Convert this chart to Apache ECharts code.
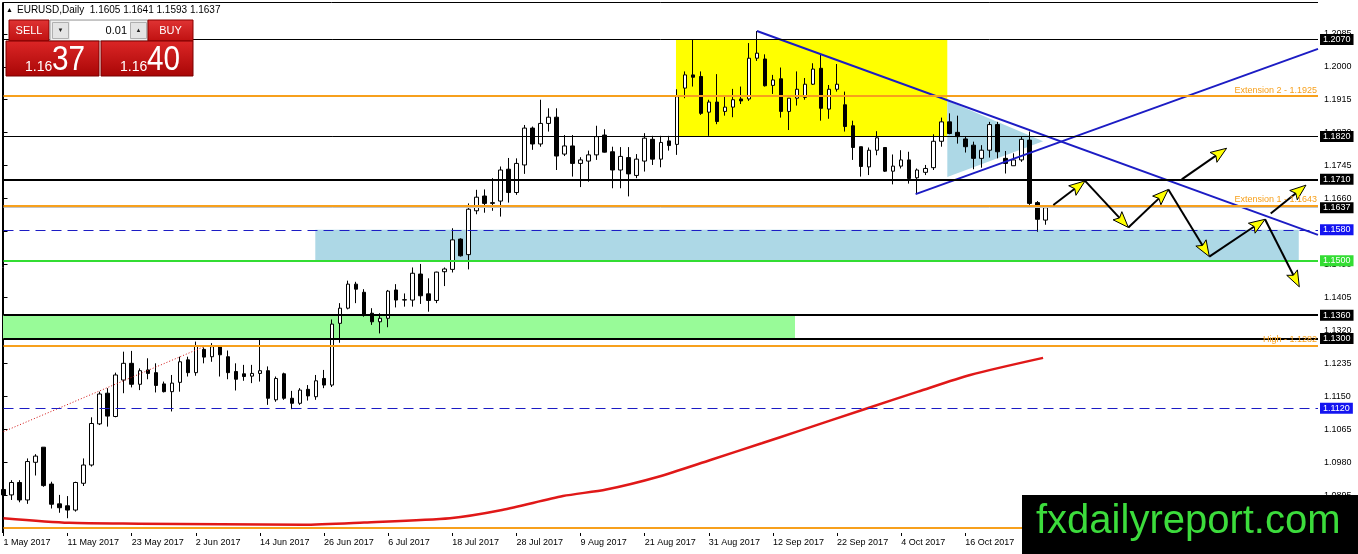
<!DOCTYPE html>
<html><head><meta charset="utf-8">
<script src="https://cdn.jsdelivr.net/npm/echarts@6/dist/echarts.min.js"></script>
<style>html,body{margin:0;padding:0;background:#fff}#c{width:1358px;height:554px}</style>
</head><body><div id="c"></div>
<script>
// ---------------- data ----------------
const symbolTitle = 'EURUSD,Daily';
const tickLabels = ['1 May 2017','11 May 2017','23 May 2017','2 Jun 2017','14 Jun 2017','26 Jun 2017','6 Jul 2017','18 Jul 2017','28 Jul 2017','9 Aug 2017','21 Aug 2017','31 Aug 2017','12 Sep 2017','22 Sep 2017','4 Oct 2017','16 Oct 2017'];
const slotCount = 165;           // trading-day slots on the axis (incl. empty future space)
const priceTicks = [1.0895,1.0980,1.1065,1.1150,1.1235,1.1320,1.1405,1.1490,1.1575,1.1660,1.1745,1.1830,1.1915,1.2000,1.2085];

const opens = [1.0911,1.0897,1.0929,1.0884,1.0981,1.1020,1.0925,1.0874,1.0869,1.0858,
1.0927,1.0974,1.1080,1.1159,1.1099,1.1193,1.1236,1.1182,1.1219,1.1212,
1.1183,1.1163,1.1187,1.1245,1.1212,1.1272,1.1253,1.1279,1.1253,1.1215,
1.1209,1.1203,1.1210,1.1217,1.1142,1.1209,1.1146,1.1133,1.1169,1.1150,
1.1197,1.1180,1.1339,1.1378,1.1440,1.1419,1.1365,1.1343,1.1352,1.1425,
1.1399,1.1399,1.1466,1.1415,1.1398,1.1472,1.1478,1.1556,1.1516,1.1629,
1.1667,1.1648,1.1654,1.1736,1.1676,1.1747,1.1842,1.1801,1.1854,1.1870,
1.1775,1.1796,1.1751,1.1757,1.1773,1.1824,1.1781,1.1734,1.1766,1.1720,
1.1757,1.1813,1.1762,1.1809,1.1800,1.1945,1.1979,1.1975,1.1883,1.1909,
1.1885,1.1896,1.1917,1.1917,1.2022,1.2020,1.1952,1.1969,1.1885,1.1919,
1.1921,1.1955,1.1996,1.1891,1.1942,1.1902,1.1848,1.1794,1.1742,1.1785,
1.1792,1.1731,1.1744,1.1760,1.1714,1.1728,1.1740,1.1808,1.1858,1.1831,
1.1814,1.1798,1.1764,1.1785,1.1851,1.1764,1.1745,1.1760,1.1811,1.1650,
1.1605];
const highs = [1.0923,1.0935,1.0935,1.0991,1.1002,1.1020,1.0931,1.0897,1.0894,1.0931,
1.0991,1.1097,1.1163,1.1172,1.1212,1.1266,1.1268,1.1223,1.1249,1.1236,
1.1189,1.1206,1.1253,1.1253,1.1292,1.1277,1.1288,1.1283,1.1269,1.1236,
1.1232,1.1232,1.1298,1.1228,1.1202,1.1212,1.1165,1.1172,1.1180,1.1206,
1.1219,1.1349,1.1391,1.1449,1.1446,1.1427,1.1378,1.1365,1.1425,1.1440,
1.1416,1.1483,1.1492,1.1455,1.1472,1.1483,1.1584,1.1558,1.1648,1.1683,
1.1684,1.1713,1.1743,1.1765,1.1764,1.1850,1.1846,1.1915,1.1893,1.1893,
1.1824,1.1824,1.1767,1.1784,1.1848,1.1839,1.1794,1.1793,1.1793,1.1775,
1.1829,1.1822,1.1822,1.1822,1.1942,1.1988,1.2070,1.1988,1.1915,1.1981,
1.1925,1.1943,1.1949,1.2061,1.2092,1.2032,1.1979,1.1998,1.1919,1.1988,
1.1971,1.2009,1.2032,1.1953,1.2007,1.1936,1.1861,1.1794,1.1792,1.1834,
1.1792,1.1774,1.1785,1.1781,1.1738,1.1747,1.1826,1.1869,1.1880,1.1874,
1.1820,1.1807,1.1798,1.1858,1.1858,1.1783,1.1777,1.1820,1.1833,1.1654,
1.1641];
const lows = [1.0882,1.0884,1.0878,1.0874,1.0947,1.0918,1.0862,1.0851,1.0837,1.0854,
1.0920,1.0970,1.1077,1.1073,1.1097,1.1159,1.1174,1.1167,1.1195,1.1161,
1.1161,1.1112,1.1163,1.1202,1.1204,1.1236,1.1240,1.1202,1.1195,1.1166,
1.1191,1.1185,1.1189,1.1129,1.1137,1.1142,1.1118,1.1129,1.1140,1.1142,
1.1172,1.1175,1.1289,1.1375,1.1391,1.1356,1.1335,1.1313,1.1329,1.1380,
1.1382,1.1382,1.1389,1.1369,1.1391,1.1435,1.1470,1.1511,1.1478,1.1620,
1.1624,1.1629,1.1614,1.1650,1.1670,1.1724,1.1786,1.1794,1.1833,1.1734,
1.1770,1.1717,1.1690,1.1704,1.1760,1.1779,1.1687,1.1687,1.1666,1.1713,
1.1730,1.1747,1.1741,1.1784,1.1773,1.1919,1.1949,1.1876,1.1822,1.1852,
1.1874,1.1870,1.1904,1.1912,1.2015,1.1949,1.1930,1.1869,1.1837,1.1900,
1.1915,1.1953,1.1861,1.1866,1.1936,1.1833,1.1760,1.1717,1.1721,1.1772,
1.1729,1.1697,1.1738,1.1699,1.1672,1.1721,1.1734,1.1794,1.1826,1.1802,
1.1779,1.1736,1.1740,1.1766,1.1764,1.1725,1.1745,1.1755,1.1644,1.1575,
1.1593];
const closes = [1.0897,1.0929,1.0884,1.0983,1.0997,1.0921,1.0873,1.0864,1.0858,1.0929,
1.0974,1.1081,1.1157,1.1100,1.1206,1.1236,1.1182,1.1217,1.1210,1.1179,
1.1163,1.1185,1.1240,1.1212,1.1281,1.1252,1.1279,1.1258,1.1212,1.1195,
1.1202,1.1210,1.1217,1.1146,1.1197,1.1146,1.1133,1.1167,1.1152,1.1191,
1.1180,1.1337,1.1378,1.1440,1.1427,1.1361,1.1343,1.1352,1.1422,1.1399,
1.1400,1.1468,1.1410,1.1398,1.1471,1.1479,1.1554,1.1513,1.1633,1.1664,
1.1648,1.1650,1.1734,1.1676,1.1751,1.1842,1.1801,1.1854,1.1870,1.1770,
1.1796,1.1751,1.1760,1.1773,1.1820,1.1780,1.1734,1.1769,1.1724,1.1762,
1.1816,1.1762,1.1805,1.1797,1.1923,1.1979,1.1973,1.1880,1.1909,1.1859,
1.1896,1.1915,1.1912,1.2022,1.2035,1.1951,1.1966,1.1885,1.1919,1.1942,
1.1955,1.1994,1.1893,1.1942,1.1955,1.1846,1.1792,1.1743,1.1785,1.1817,
1.1731,1.1744,1.1760,1.1712,1.1734,1.1738,1.1808,1.1858,1.1828,1.1820,
1.1794,1.1764,1.1785,1.1851,1.1781,1.1751,1.1760,1.1813,1.1648,1.1607,
1.1637];

// moving average read at a few points (slot index, price)
const maIdx = [0, 8.2, 16.9, 37.4, 45, 55.7, 62.2, 69.8, 75.2, 81.7, 88.2, 94.6, 99, 107.6, 114.1, 120.6, 129.7];
const maVal = [1.0837,1.0825,1.0823,1.0820,1.0826,1.0837,1.0858,1.0894,1.0911,1.0944,1.0987,1.1030,1.1060,1.1119,1.1163,1.1206,1.1250];

// horizontal levels
const levelValues = [1.2070, 1.1925, 1.1820, 1.1710, 1.1643, 1.1637, 1.1580, 1.1500, 1.1360, 1.1300, 1.1282, 1.1120, 1.0813];
const levelNotes  = ['', 'Extension 2 - 1.1925', '', '', 'Extension 1 - 1.1643', '', '', '', '', '', 'High - 1.1282', '', ''];
const levelBoxes  = ['1.2070', '', '1.1820', '1.1710', '', '1.1637', '1.1580', '1.1500', '1.1360', '1.1300', '', '1.1120', ''];

// zones (slot index / price anchors)
const yellowZone = [83.9, 1.2070, 117.75, 1.1820];
const blueZone   = [38.9, 1.1580, 161.6, 1.1500];
const greenZone  = [-0.5, 1.1360, 98.75, 1.1300];
const triangleZone = [[117.75, 1.1913], [117.75, 1.1716], [129.7, 1.1808]];

// trend lines
const downTrend = [[94, 1.2092], [164, 1.1567]];
const upTrend   = [[113.8, 1.1672], [164, 1.2046]];
const dottedTrend = [[0, 1.1060], [24.9, 1.1278]];

// projected path with arrows
const zigzagX = [130.98, 134.94, 140.34, 145.33, 150.44, 157.39, 161.67];
const zigzagY = [1.1644, 1.1706, 1.1586, 1.1684, 1.1511, 1.1607, 1.1433];
const branchA = [[147.0, 1.1710], [152.6, 1.1790]];
const branchB = [[158.1, 1.1622], [162.5, 1.1695]];

const bidPrice = 1.1637, askPrice = 1.1640, lotSize = '0.01';
const watermark = 'fxdailyreport.com';

// ---------------- chart ----------------
const FONT = 'Liberation Sans, Arial, sans-serif';
const categories = Array.from({length: slotCount}, (_, i) => String(i));
const candleData = opens.map((o, i) => [o, closes[i], lows[i], highs[i]]);

const ORANGE = '#f7a01c', BLUE = '#1c1cc4';
const levelStyle = [
  {c:'#000', w:1, box:'#000'},
  {c:ORANGE, w:2},
  {c:'#000', w:1, box:'#000'},
  {c:'#000', w:2, box:'#000'},
  {c:ORANGE, w:2},
  {c:'#c4c4c4', w:1, box:'#000'},
  {c:BLUE, w:1.2, dash:[10,6], box:'#1414f0'},
  {c:'#33dd33', w:2, box:'#33dd33'},
  {c:'#000', w:2, box:'#000'},
  {c:'#000', w:2, box:'#000'},
  {c:ORANGE, w:2},
  {c:BLUE, w:1.2, dash:[10,6], box:'#1414f0'},
  {c:ORANGE, w:2}
];
const markLineData = levelValues.map((v, i) => {
  const s = levelStyle[i];
  let label = {show:false};
  if (levelBoxes[i]) label = {show:true, position:'end', formatter: levelBoxes[i], backgroundColor: s.box, color:'#fff',
      fontSize:9, fontFamily:FONT, lineHeight:10, padding:[1,3,0,3], distance:2};
  else if (levelNotes[i]) label = {show:true, position:'insideEndTop', formatter: levelNotes[i], color: ORANGE,
      fontSize:9, fontFamily:FONT, distance:1};
  const style = {lineStyle:{color:s.c, width:s.w, type: s.dash || 'solid'}, label};
  return [Object.assign({coord:[0, v]}, style), {coord:[slotCount - 1, v]}];
});

const arrowSegments = [];
for (let k = 0; k < zigzagX.length - 1; k++) arrowSegments.push([zigzagX[k], zigzagY[k], zigzagX[k+1], zigzagY[k+1]]);
arrowSegments.push([branchA[0][0], branchA[0][1], branchA[1][0], branchA[1][1]]);
arrowSegments.push([branchB[0][0], branchB[0][1], branchB[1][0], branchB[1][1]]);

const zones = [
  {kind:'rect', pts: greenZone, fill:'#98fb98'},
  {kind:'rect', pts: blueZone, fill:'#add8e6'},
  {kind:'rect', pts: yellowZone, fill:'#ffff00'},
  {kind:'poly', pts: triangleZone, fill:'#add8e6'}
];

const chart = echarts.init(document.getElementById('c'), null, {renderer:'canvas'});
const redGrad = new echarts.graphic.LinearGradient(0,0,0,1,[{offset:0,color:'#dc2626'},{offset:1,color:'#a80606'}]);
const btnGrad = new echarts.graphic.LinearGradient(0,0,0,1,[{offset:0,color:'#e03434'},{offset:1,color:'#bf1010'}]);
const bidStr = bidPrice.toFixed(4), askStr = askPrice.toFixed(4);
const lastI = opens.length - 1;
const headerText = symbolTitle + '  ' + [opens[lastI], highs[lastI], lows[lastI], closes[lastI]].map(v => v.toFixed(4)).join(' ');

const option = {
  animation: false,
  backgroundColor: '#fff',
  grid: {left: 3.5, right: 40, top: 2.7, bottom: 21, containLabel: false},
  xAxis: [
    {type:'category', data: categories, boundaryGap:false, gridIndex:0,
     axisLine:{show:false},
     axisTick:{show:true, interval:7, length:3, lineStyle:{color:'#000'}},
     axisLabel:{interval:7, align:'left', margin:5, fontSize:9, fontFamily:FONT, color:'#000',
       formatter:(v, idx) => tickLabels[idx/8] || ''},
     splitLine:{show:false}},
    {type:'value', min:0, max:slotCount-1, show:false, gridIndex:0}
  ],
  yAxis: {type:'value', position:'right', min:1.07989, max:1.2165, scale:true,
    axisLine:{show:true, lineStyle:{color:'#000', width:1}},
    axisTick:{show:true, customValues: priceTicks, length:4, lineStyle:{color:'#000'}},
    axisLabel:{customValues: priceTicks, formatter: v => v.toFixed(4), fontSize:9, fontFamily:FONT, color:'#000', margin:6},
    splitLine:{show:false}},
  series: [
    {type:'custom', name:'zones', xAxisIndex:1, z:1, clip:true, silent:true,
     data: zones.map((z, i) => [i, levelValues[0]]),
     renderItem(params, api) {
       const z = zones[params.dataIndex];
       if (z.kind === 'rect') {
         const p1 = api.coord([z.pts[0], z.pts[1]]), p2 = api.coord([z.pts[2], z.pts[3]]);
         return {type:'rect', shape:{x:Math.min(p1[0],p2[0]), y:Math.min(p1[1],p2[1]), width:Math.abs(p2[0]-p1[0]), height:Math.abs(p2[1]-p1[1])}, style:{fill:z.fill}};
       }
       return {type:'polygon', shape:{points: z.pts.map(p => api.coord(p))}, style:{fill:z.fill}};
     }},
    {type:'line', name:'levels', xAxisIndex:1, z:2, silent:true, data:[], symbol:'none',
     markLine:{silent:true, symbol:['none','none'], precision:6, animation:false, data: markLineData}},
    {type:'candlestick', name:'EURUSD', xAxisIndex:0, z:3, data: candleData, barWidth:4,
     itemStyle:{color:'#fff', color0:'#000', borderColor:'#000', borderColor0:'#000', borderWidth:1}},
    {type:'line', name:'MA', xAxisIndex:1, z:4, data: maIdx.map((x, i) => [x, maVal[i]]), symbol:'none', smooth:0.25,
     lineStyle:{color:'#e01818', width:2.5}},
    {type:'line', name:'dotted', xAxisIndex:1, z:4, data: dottedTrend, symbol:'none',
     lineStyle:{color:'#d01010', width:1, type:[1,2]}},
    {type:'line', name:'down', xAxisIndex:1, z:4, data: downTrend, symbol:'none', lineStyle:{color:BLUE, width:2}},
    {type:'line', name:'up', xAxisIndex:1, z:4, data: upTrend, symbol:'none', lineStyle:{color:BLUE, width:2}},
    {type:'custom', name:'arrows', xAxisIndex:1, z:5, silent:true,
     data: arrowSegments,
     encode:{x:[0,2], y:[1,3]},
     renderItem(params, api) {
       const s = arrowSegments[params.dataIndex];
       const a = api.coord([s[0], s[1]]), b = api.coord([s[2], s[3]]);
       const dx = b[0]-a[0], dy = b[1]-a[1], L = Math.hypot(dx, dy);
       const ux = dx/L, uy = dy/L, nx = -uy, ny = ux;
       const len = 16, half = 6, notch = 3;
       const base = [b[0]-ux*len, b[1]-uy*len];
       return {type:'group', children:[
         {type:'line', shape:{x1:a[0], y1:a[1], x2:base[0]+ux*notch, y2:base[1]+uy*notch}, style:{stroke:'#000', lineWidth:2}},
         {type:'polygon', shape:{points:[b, [base[0]+nx*half, base[1]+ny*half], [base[0]+ux*notch, base[1]+uy*notch], [base[0]-nx*half, base[1]-ny*half]]},
          style:{fill:'#ffff00', stroke:'#000', lineWidth:1}}
       ]};
     }}
  ],
  graphic: [
    {type:'line', z:50, shape:{x1:2.5, y1:2.5, x2:1318, y2:2.5}, style:{stroke:'#000', lineWidth:1}},
    {type:'line', z:50, shape:{x1:2.5, y1:2.5, x2:2.5, y2:533}, style:{stroke:'#000', lineWidth:1}},
    {type:'text', z:60, style:{text:'▲', x:6, y:10, fontSize:7, fill:'#000', verticalAlign:'middle'}},
    {type:'text', z:60, style:{text:headerText, x:17, y:10, fontSize:10, fontFamily:FONT, fill:'#000', verticalAlign:'middle'}},
    // trade panel
    {type:'rect', z:60, shape:{x:9, y:20, width:40, height:21}, style:{fill:btnGrad, stroke:'#8a0000', lineWidth:1}},
    {type:'text', z:61, style:{text:'SELL', x:29, y:30.5, fontSize:11, fontFamily:FONT, fill:'#fff', align:'center', verticalAlign:'middle'}},
    {type:'rect', z:60, shape:{x:50, y:20, width:98, height:21}, style:{fill:'#eeeeee', stroke:'#9a9a9a', lineWidth:1}},
    {type:'rect', z:61, shape:{x:52.5, y:22.5, width:16, height:16}, style:{fill:'#e4e4e4', stroke:'#b0b0b0', lineWidth:1}},
    {type:'text', z:62, style:{text:'▼', x:60.5, y:30.5, fontSize:6, fill:'#222', align:'center', verticalAlign:'middle'}},
    {type:'rect', z:61, shape:{x:70, y:21, width:60, height:19}, style:{fill:'#fff'}},
    {type:'text', z:62, style:{text:lotSize, x:127, y:30.5, fontSize:11, fontFamily:FONT, fill:'#000', align:'right', verticalAlign:'middle'}},
    {type:'rect', z:61, shape:{x:130.5, y:22.5, width:16, height:16}, style:{fill:'#e4e4e4', stroke:'#b0b0b0', lineWidth:1}},
    {type:'text', z:62, style:{text:'▲', x:138.5, y:30.5, fontSize:6, fill:'#222', align:'center', verticalAlign:'middle'}},
    {type:'rect', z:60, shape:{x:148, y:20, width:45, height:21}, style:{fill:btnGrad, stroke:'#8a0000', lineWidth:1}},
    {type:'text', z:61, style:{text:'BUY', x:170.5, y:30.5, fontSize:11, fontFamily:FONT, fill:'#fff', align:'center', verticalAlign:'middle'}},
    {type:'rect', z:60, shape:{x:6, y:41, width:93, height:35}, style:{fill:redGrad, stroke:'#7a0000', lineWidth:1}},
    {type:'rect', z:60, shape:{x:101, y:41, width:92, height:35}, style:{fill:redGrad, stroke:'#7a0000', lineWidth:1}},
    {type:'text', z:61, style:{text:bidStr.slice(0,4), x:25, y:67, fontSize:14, fontFamily:FONT, fill:'#fff', verticalAlign:'middle'}},
    {type:'text', z:61, scaleX:0.85, originX:52, style:{text:bidStr.slice(4), x:52, y:60, fontSize:35, fontFamily:FONT, fill:'#fff', verticalAlign:'middle'}},
    {type:'text', z:61, style:{text:askStr.slice(0,4), x:120, y:67, fontSize:14, fontFamily:FONT, fill:'#fff', verticalAlign:'middle'}},
    {type:'text', z:61, scaleX:0.85, originX:147, style:{text:askStr.slice(4), x:147, y:60, fontSize:35, fontFamily:FONT, fill:'#fff', verticalAlign:'middle'}},
    // watermark
    {type:'rect', z:100, shape:{x:1022, y:495, width:336, height:59}, style:{fill:'#000'}},
    {type:'text', z:101, style:{text:watermark, x:1036, y:522, fontSize:40, fontFamily:FONT, fill:'#3cdc3c', verticalAlign:'middle'}}
  ]
};
chart.setOption(option);
</script>
</body></html>
